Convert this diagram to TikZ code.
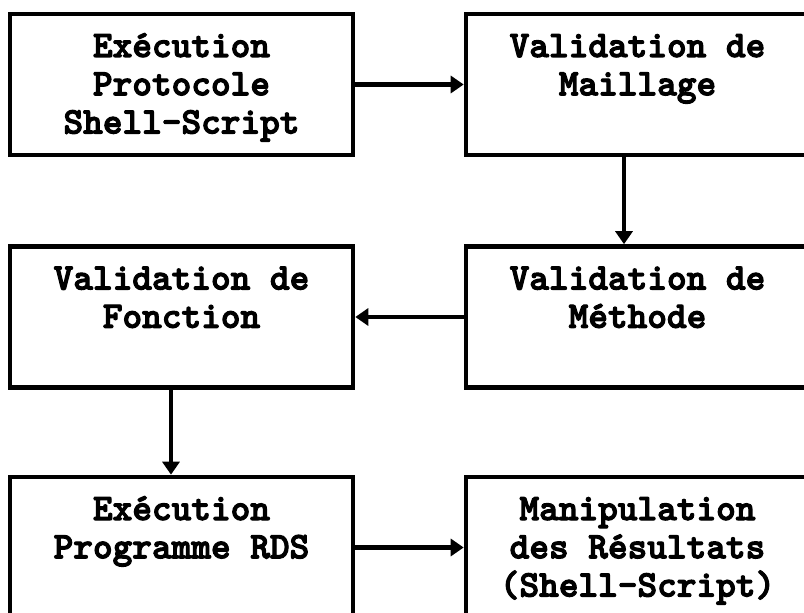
\documentclass[tikz,border=0pt]{standalone}
\usepackage{fontspec}
\usepackage{tikz}
\usetikzlibrary{arrows.meta}

\newfontfamily\stagefont{lmmonolt10-bold.otf}[FakeBold=3]

% text of a stage, first baseline fixed under the top edge
\newcommand{\stagetext}[1]{\parbox[c][70.5bp][t]{171.5bp}{\centering\rule{0pt}{21.5bp}#1}}

\begin{document}
\begin{tikzpicture}[x=0.5bp, y=-0.5bp,
    stage/.style={draw, line width=2.3bp, inner sep=0pt,
        minimum width=171.5bp, minimum height=70.5bp,
        font=\stagefont\fontsize{18.8}{19.2}\selectfont},
    flow/.style={line width=2.1bp, -{Triangle[length=6.5bp, width=8.5bp]}}]

    % Frame
    \useasboundingbox (0,0) rectangle (804,613);
    \clip (0,0) rectangle (804,613);

    % Stages
    \node[stage] (exec)  at (181.5,84.5) {\stagetext{Exécution\\Protocole\\Shell-Script}};
    \node[stage] (maill) at (637.5,84.5) {\stagetext{Validation de\\Maillage}};
    \node[stage] (meth)  at (637.5,317)  {\stagetext{Validation de\\Méthode}};
    \node[stage] (fonct) at (181.5,317)  {\stagetext{Validation de\\Fonction}};
    \node[stage] (rds)   at (181.5,547.5) {\stagetext{Exécution\\Programme RDS}};
    \node[stage] (manip) at (637.5,547.5) {\stagetext{Manipulation\\des Résultats\\(Shell-Script)}};

    % Arrows
    \draw[flow] (exec.east) -- (maill.west);
    \draw[flow] ([xshift=-6.75bp]maill.south) -- ([xshift=-6.75bp]meth.north);
    \draw[flow] (meth.west) -- (fonct.east);
    \draw[flow] ([xshift=-5.25bp]fonct.south) -- ([xshift=-5.25bp]rds.north);
    \draw[flow] (rds.east) -- (manip.west);

\end{tikzpicture}
\end{document}
